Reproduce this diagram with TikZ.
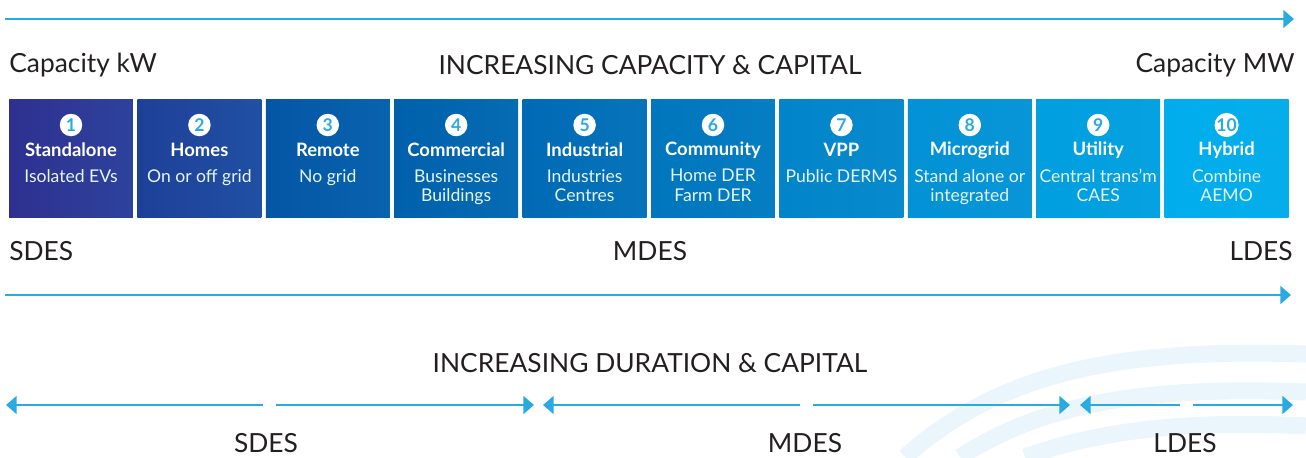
\documentclass[tikz,border=0pt]{standalone}
\usepackage{fontspec}
\setmainfont{Lato}
\usetikzlibrary{arrows.meta}
\definecolor{arrowblue}{RGB}{41,171,226}
\definecolor{swoosh}{RGB}{234,246,252}
\definecolor{darktext}{RGB}{35,31,32}
\definecolor{c1}{RGB}{46,48,144}
\definecolor{c2}{RGB}{30,64,152}
\definecolor{c3}{RGB}{4,86,165}
\definecolor{c4}{RGB}{0,96,171}
\definecolor{c5}{RGB}{0,106,180}
\definecolor{c6}{RGB}{0,118,189}
\definecolor{c7}{RGB}{2,132,202}
\definecolor{c8}{RGB}{2,146,213}
\definecolor{c9}{RGB}{0,159,224}
\definecolor{c10}{RGB}{0,173,236}
\begin{document}
\begin{tikzpicture}[x=0.02cm, y=-0.02cm,
    box/.style={minimum width=2.48cm, minimum height=2.38cm, inner sep=0pt},
    numdot/.style={circle, fill=white, minimum size=0.45cm, inner sep=0pt,
      text=arrowblue, font=\bfseries\fontsize{10}{10}\selectfont},
    boxtitle/.style={text=white, font=\bfseries\fontsize{10.5}{12}\selectfont},
    boxsub/.style={text=white!88!arrowblue, align=center,
      font=\fontsize{10}{11}\selectfont},
    label/.style={text=darktext, inner sep=0pt, font=\fontsize{15}{18}\selectfont},
    flow/.style={arrowblue, line width=1.6pt, -{Triangle[length=6pt, width=10pt]}},
    back/.style={arrowblue, line width=1.6pt, {Triangle[length=6pt, width=10pt]}-},
    band/.style={swoosh, line width=0.34cm}]
    \useasboundingbox (0,0) rectangle (1306,457);

    \draw[band] (905,457) .. controls (1000,372) and (1120,348) .. (1306,354);
    \draw[band] (960,457) .. controls (1045,402) and (1150,386) .. (1306,392);
    \draw[band] (1025,457) .. controls (1100,430) and (1190,420) .. (1306,426);

    \coordinate (capstart) at (5,19);
    \coordinate (capend) at (1294,19);
    \draw[flow] (capstart) -- (capend);

    \node[label, anchor=west] (kw) at (9,65) {Capacity kW};
    \node[label] (inccap) at (650,65) {INCREASING CAPACITY \& CAPITAL};
    \node[label, anchor=east] (mw) at (1295,65) {Capacity MW};

    \foreach \i/\title/\sub in {
        1/Standalone/Isolated EVs,
        2/Homes/On or off grid,
        3/Remote/No grid,
        4/Commercial/Businesses\\Buildings,
        5/Industrial/Industries\\Centres,
        6/Community/Home DER\\Farm DER,
        7/VPP/Public DERMS,
        8/Microgrid/Stand alone or\\integrated,
        9/Utility/Central trans’m\\CAES,
        10/Hybrid/Combine\\AEMO} {
      \pgfmathsetmacro{\cx}{71+128.4*(\i-1)}
      \node[box, left color=c\i, right color=c\i!85!arrowblue] (b\i) at (\cx,158.5) {};
      \node[numdot] (n\i) at (\cx,125) {\i};
      \node[boxtitle] (t\i) at (\cx,150) {\title};
      \node[boxsub, anchor=north] (s\i) at (\cx,163) {\sub};
    }

    \node[label, anchor=west] (sdes) at (9,251) {SDES};
    \node[label] (mdes) at (650,251) {MDES};
    \node[label, anchor=east] (ldes) at (1293,251) {LDES};

    \coordinate (durstart) at (5,295);
    \coordinate (durend) at (1291,295);
    \draw[flow] (durstart) -- (durend);

    \node[label] (incdur) at (650,363) {INCREASING DURATION \& CAPITAL};

    \coordinate (s1) at (6,405);
    \coordinate (s2) at (263,405);
    \coordinate (s3) at (276,405);
    \coordinate (s4) at (534,405);
    \coordinate (m1) at (543,405);
    \coordinate (m2) at (800,405);
    \coordinate (m3) at (813,405);
    \coordinate (m4) at (1070,405);
    \coordinate (l1) at (1080,405);
    \coordinate (l2) at (1180,405);
    \coordinate (l3) at (1193,405);
    \coordinate (l4) at (1293,405);
    \draw[back] (s1) -- (s2);
    \draw[flow] (s3) -- (s4);
    \draw[back] (m1) -- (m2);
    \draw[flow] (m3) -- (m4);
    \draw[back] (l1) -- (l2);
    \draw[flow] (l3) -- (l4);

    \node[label] (sdesb) at (266,443) {SDES};
    \node[label] (mdesb) at (805,443) {MDES};
    \node[label] (ldesb) at (1185,443) {LDES};
\end{tikzpicture}
\end{document}
